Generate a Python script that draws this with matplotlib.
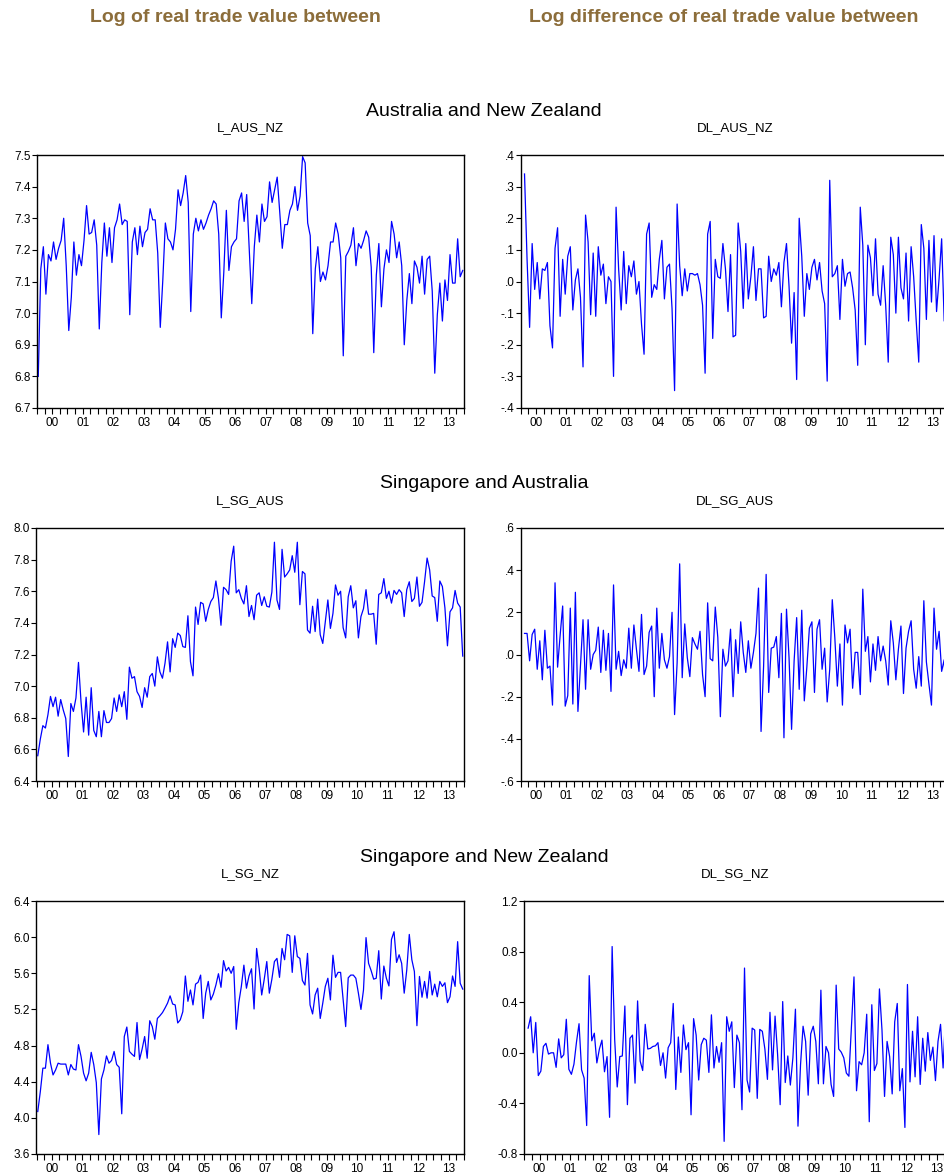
import numpy as np
import matplotlib
matplotlib.use("Agg")
import matplotlib.pyplot as plt
from matplotlib.ticker import FixedLocator, FuncFormatter

plt.rcParams['font.family'] = ['Liberation Sans', 'DejaVu Sans']
plt.rcParams['axes.unicode_minus'] = False

WIDTH, HEIGHT, DPI = 945, 1175, 100

# Monthly data, 2000M01 - 2013M12 (levels), 2000M02 - 2013M12 (differences)
years = list(range(2000, 2014))
year_labels = ['00', '01', '02', '03', '04', '05', '06', '07', '08', '09', '10', '11', '12', '13']

l_aus_nz = [
    6.80, 7.14, 7.21, 7.06, 7.185, 7.165, 7.225, 7.17, 7.205, 7.23, 7.30, 7.15,
    6.945, 7.05, 7.225, 7.12, 7.185, 7.15, 7.23, 7.34, 7.25, 7.255, 7.295, 7.215,
    6.95, 7.16, 7.285, 7.18, 7.27, 7.16, 7.27, 7.295, 7.345, 7.28, 7.295, 7.29,
    6.995, 7.225, 7.27, 7.185, 7.275, 7.21, 7.255, 7.265, 7.33, 7.295, 7.295, 7.19,
    6.955, 7.105, 7.285, 7.235, 7.225, 7.20, 7.265, 7.39, 7.34, 7.38, 7.435, 7.35,
    7.005, 7.25, 7.30, 7.26, 7.295, 7.265, 7.285, 7.31, 7.33, 7.355, 7.345, 7.25,
    6.985, 7.13, 7.325, 7.135, 7.21, 7.225, 7.235, 7.355, 7.38, 7.29, 7.375, 7.20,
    7.03, 7.21, 7.31, 7.225, 7.345, 7.29, 7.305, 7.415, 7.35, 7.39, 7.43, 7.32,
    7.205, 7.28, 7.28, 7.325, 7.345, 7.40, 7.325, 7.37, 7.495, 7.475, 7.285, 7.245,
    6.935, 7.14, 7.21, 7.10, 7.13, 7.105, 7.15, 7.225, 7.225, 7.285, 7.25, 7.175,
    6.865, 7.18, 7.195, 7.215, 7.27, 7.15, 7.22, 7.205, 7.23, 7.26, 7.24, 7.145,
    6.875, 7.12, 7.22, 7.02, 7.14, 7.20, 7.16, 7.29, 7.25, 7.175, 7.225, 7.15,
    6.90, 7.04, 7.125, 7.03, 7.165, 7.145, 7.095, 7.18, 7.06, 7.17, 7.18, 7.07,
    6.81, 6.995, 7.095, 6.975, 7.105, 7.04, 7.185, 7.095, 7.095, 7.235, 7.115, 7.135,
]

dl_aus_nz = [
    0.34, 0.07, -0.145, 0.12, -0.025, 0.06, -0.055, 0.04, 0.035, 0.06, -0.14, -0.21,
    0.105, 0.17, -0.11, 0.07, -0.04, 0.08, 0.11, -0.09, 0.005, 0.04, -0.05, -0.27,
    0.21, 0.125, -0.105, 0.09, -0.11, 0.11, 0.02, 0.055, -0.07, 0.015, 0.0, -0.30,
    0.235, 0.04, -0.09, 0.095, -0.07, 0.05, 0.015, 0.065, -0.04, 0.0, -0.135, -0.23,
    0.15, 0.185, -0.05, -0.01, -0.025, 0.07, 0.13, -0.055, 0.045, 0.055, -0.085, -0.345,
    0.245, 0.05, -0.045, 0.04, -0.03, 0.025, 0.025, 0.02, 0.025, -0.01, -0.075, -0.29,
    0.15, 0.19, -0.18, 0.07, 0.015, 0.01, 0.12, 0.04, -0.095, 0.085, -0.175, -0.17,
    0.185, 0.095, -0.085, 0.12, -0.055, 0.015, 0.11, -0.06, 0.04, 0.04, -0.115, -0.11,
    0.08, 0.0, 0.04, 0.02, 0.06, -0.08, 0.06, 0.12, -0.015, -0.195, -0.035, -0.31,
    0.20, 0.08, -0.11, 0.025, -0.025, 0.045, 0.07, 0.005, 0.06, -0.03, -0.07, -0.315,
    0.32, 0.015, 0.025, 0.05, -0.12, 0.07, -0.015, 0.025, 0.03, -0.02, -0.09, -0.265,
    0.235, 0.115, -0.20, 0.115, 0.075, -0.045, 0.135, -0.04, -0.075, 0.05, -0.075, -0.255,
    0.14, 0.085, -0.10, 0.14, -0.02, -0.055, 0.09, -0.125, 0.11, 0.015, -0.125, -0.255,
    0.18, 0.105, -0.12, 0.13, -0.065, 0.145, -0.095, 0.01, 0.135, -0.125, 0.02,
]

l_sg_aus = [
    6.56, 6.665, 6.75, 6.735, 6.82, 6.935, 6.87, 6.93, 6.81, 6.915, 6.85, 6.795,
    6.555, 6.89, 6.84, 6.925, 7.15, 6.90, 6.71, 6.93, 6.69, 6.99, 6.72, 6.68,
    6.84, 6.68, 6.845, 6.77, 6.77, 6.795, 6.925, 6.84, 6.945, 6.87, 6.965, 6.79,
    7.12, 7.05, 7.06, 6.965, 6.935, 6.865, 6.99, 6.93, 7.06, 7.08, 7.00, 7.185,
    7.09, 7.05, 7.145, 7.28, 7.09, 7.30, 7.245, 7.335, 7.32, 7.25, 7.245, 7.445,
    7.155, 7.065, 7.50, 7.39, 7.53, 7.52, 7.41, 7.485, 7.535, 7.56, 7.665, 7.555,
    7.385, 7.625, 7.61, 7.58, 7.79, 7.885, 7.59, 7.61, 7.555, 7.52, 7.635, 7.44,
    7.51, 7.42, 7.575, 7.59, 7.51, 7.565, 7.505, 7.50, 7.595, 7.91, 7.545, 7.485,
    7.865, 7.69, 7.71, 7.735, 7.825, 7.72, 7.91, 7.515, 7.725, 7.71, 7.355, 7.335,
    7.505, 7.345, 7.55, 7.325, 7.27, 7.405, 7.545, 7.365, 7.46, 7.64, 7.575, 7.60,
    7.37, 7.305, 7.565, 7.635, 7.495, 7.54, 7.305, 7.44, 7.49, 7.61, 7.455, 7.455,
    7.46, 7.265, 7.58, 7.59, 7.68, 7.555, 7.60, 7.525, 7.605, 7.58, 7.61, 7.59,
    7.44, 7.61, 7.66, 7.535, 7.555, 7.69, 7.505, 7.53, 7.66, 7.81, 7.735, 7.57,
    7.56, 7.41, 7.665, 7.63, 7.495, 7.255, 7.47, 7.495, 7.605, 7.525, 7.50, 7.19,
]

dl_sg_aus = [
    0.10, 0.10, -0.03, 0.095, 0.12, -0.07, 0.065, -0.12, 0.115, -0.065, -0.055, -0.24,
    0.34, -0.06, 0.09, 0.23, -0.245, -0.195, 0.22, -0.235, 0.295, -0.27, -0.055, 0.165,
    -0.165, 0.165, -0.07, 0.0, 0.02, 0.13, -0.085, 0.115, -0.075, 0.10, -0.175, 0.33,
    -0.07, 0.015, -0.10, -0.025, -0.065, 0.125, -0.065, 0.14, 0.025, -0.08, 0.19, -0.095,
    -0.055, 0.105, 0.135, -0.20, 0.22, -0.065, 0.10, -0.025, -0.065, -0.01, 0.20, -0.285,
    -0.04, 0.43, -0.11, 0.145, -0.015, -0.105, 0.08, 0.05, 0.025, 0.11, -0.095, -0.20,
    0.245, -0.02, -0.03, 0.225, 0.08, -0.295, 0.025, -0.055, -0.03, 0.12, -0.20, 0.07,
    -0.09, 0.155, 0.01, -0.085, 0.065, -0.065, 0.01, 0.10, 0.315, -0.365, -0.055, 0.38,
    -0.18, 0.03, 0.035, 0.085, -0.11, 0.195, -0.395, 0.215, -0.015, -0.355, -0.03, 0.175,
    -0.165, 0.21, -0.22, -0.06, 0.125, 0.155, -0.18, 0.12, 0.165, -0.07, 0.03, -0.225,
    -0.07, 0.26, 0.08, -0.15, 0.05, -0.24, 0.14, 0.055, 0.12, -0.16, 0.01, 0.01,
    -0.19, 0.31, 0.015, 0.085, -0.13, 0.05, -0.075, 0.085, -0.03, 0.04, -0.03, -0.145,
    0.16, 0.055, -0.12, 0.025, 0.135, -0.185, 0.03, 0.11, 0.16, -0.07, -0.16, -0.01,
    -0.15, 0.255, -0.035, -0.14, -0.24, 0.22, 0.025, 0.11, -0.08, -0.025, -0.31,
]

l_sg_nz = [
    4.07, 4.29, 4.55, 4.55, 4.81, 4.605, 4.475, 4.53, 4.605, 4.595, 4.595, 4.595,
    4.475, 4.59, 4.54, 4.53, 4.81, 4.68, 4.495, 4.41, 4.495, 4.725, 4.59, 4.39,
    3.815, 4.43, 4.53, 4.685, 4.605, 4.635, 4.735, 4.59, 4.56, 4.045, 4.90, 5.005,
    4.735, 4.705, 4.68, 5.055, 4.645, 4.76, 4.90, 4.66, 5.075, 5.01, 4.87, 5.10,
    5.13, 5.165, 5.215, 5.27, 5.35, 5.26, 5.25, 5.05, 5.085, 5.175, 5.57, 5.29,
    5.415, 5.25, 5.48, 5.50, 5.58, 5.10, 5.38, 5.51, 5.305, 5.37, 5.47, 5.595,
    5.445, 5.74, 5.625, 5.665, 5.60, 5.675, 4.98, 5.275, 5.455, 5.69, 5.435, 5.57,
    5.65, 5.205, 5.875, 5.655, 5.36, 5.535, 5.73, 5.38, 5.535, 5.73, 5.765, 5.555,
    5.875, 5.75, 6.03, 6.015, 5.61, 6.015, 5.785, 5.765, 5.52, 5.47, 5.82, 5.25,
    5.15, 5.36, 5.435, 5.10, 5.27, 5.455, 5.545, 5.305, 5.80, 5.555, 5.61, 5.61,
    5.305, 5.01, 5.55, 5.58, 5.58, 5.545, 5.38, 5.20, 5.415, 5.995, 5.71, 5.63,
    5.535, 5.545, 5.85, 5.315, 5.68, 5.545, 5.46, 5.975, 6.06, 5.72, 5.805, 5.71,
    5.38, 5.635, 6.03, 5.75, 5.62, 5.02, 5.565, 5.335, 5.51, 5.325, 5.62, 5.36,
    5.48, 5.34, 5.51, 5.455, 5.495, 5.275, 5.34, 5.57, 5.455, 5.95, 5.49, 5.425,
]

dl_sg_nz = [
    0.195, 0.285, 0.0, 0.24, -0.18, -0.145, 0.05, 0.075, -0.01, 0.0, 0.0, -0.115,
    0.11, -0.04, -0.015, 0.265, -0.13, -0.17, -0.09, 0.085, 0.23, -0.135, -0.20, -0.575,
    0.61, 0.095, 0.155, -0.08, 0.03, 0.10, -0.15, -0.03, -0.51, 0.84, 0.105, -0.27,
    -0.03, -0.025, 0.37, -0.41, 0.115, 0.14, -0.24, 0.41, -0.065, -0.14, 0.225, 0.03,
    0.035, 0.05, 0.055, 0.08, -0.10, 0.0, -0.20, 0.04, 0.08, 0.39, -0.29, 0.125,
    -0.155, 0.22, 0.025, 0.08, -0.49, 0.27, 0.14, -0.215, 0.065, 0.115, 0.10, -0.155,
    0.30, -0.12, 0.05, -0.075, 0.08, -0.70, 0.285, 0.17, 0.245, -0.275, 0.14, 0.08,
    -0.45, 0.67, -0.215, -0.31, 0.195, 0.18, -0.36, 0.185, 0.17, 0.03, -0.21, 0.32,
    -0.135, 0.29, -0.015, -0.41, 0.405, -0.235, -0.025, -0.255, -0.04, 0.345, -0.58, -0.095,
    0.21, 0.09, -0.335, 0.15, 0.21, 0.09, -0.245, 0.495, -0.245, 0.05, 0.0, -0.25,
    -0.345, 0.535, 0.03, 0.005, -0.04, -0.16, -0.185, 0.21, 0.60, -0.30, -0.07, -0.095,
    0.0, 0.305, -0.545, 0.38, -0.14, -0.085, 0.505, 0.18, -0.345, 0.09, -0.03, -0.325,
    0.245, 0.39, -0.30, -0.125, -0.59, 0.54, -0.23, 0.17, -0.19, 0.285, -0.25, 0.115,
    -0.145, 0.16, -0.06, 0.045, -0.22, 0.09, 0.225, -0.12, 0.31, -0.46, -0.065,
]

headings = ['Log of real trade value between', 'Log difference of real trade value between']
pair_titles = ['Australia and New Zealand', 'Singapore and Australia', 'Singapore and New Zealand']

# month positions (mid-month) in years
t_level = 2000 + (np.arange(len(l_aus_nz)) + 0.5) / 12
t_diff = t_level[1:]


def px(x, y):
    """pixel coords (from top-left) -> figure fraction"""
    return x / WIDTH, 1 - y / HEIGHT


def one_dec(v, pos):
    return f"{round(v, 1) + 0.0:.1f}"


def no_lead_zero(v, pos):
    return one_dec(v, pos).replace('0.', '.', 1)


fig = plt.figure(figsize=(WIDTH / DPI, HEIGHT / DPI), dpi=DPI, facecolor='white')

# (name, values, t, left px, top px, right px, bottom px, yticks, formatter)
panels = [
    ('L_AUS_NZ', l_aus_nz, t_level, 37, 155, 464, 408, np.arange(6.7, 7.51, 0.1), one_dec),
    ('DL_AUS_NZ', dl_aus_nz, t_diff, 520.7, 155, 948, 408, np.arange(-0.4, 0.41, 0.1), no_lead_zero),
    ('L_SG_AUS', l_sg_aus, t_level, 36.5, 528, 464, 781, np.arange(6.4, 8.01, 0.2), one_dec),
    ('DL_SG_AUS', dl_sg_aus, t_diff, 520.7, 528, 948, 781, np.arange(-0.6, 0.61, 0.2), no_lead_zero),
    ('L_SG_NZ', l_sg_nz, t_level, 36.5, 901, 464, 1154, np.arange(3.6, 6.41, 0.4), one_dec),
    ('DL_SG_NZ', dl_sg_nz, t_diff, 524.3, 901, 952, 1154, np.arange(-0.8, 1.21, 0.4), one_dec),
]

quarters = 2000 + np.arange(0, 57) / 4
mid_years = [y + 0.5 for y in years]

for name, vals, t, x0, y0, x1, y1, yt, fmt in panels:
    l, b = px(x0, y1)
    ax = fig.add_axes([l, b, (x1 - x0) / WIDTH, (y1 - y0) / HEIGHT])
    ax.plot(t, vals, color='#0000FF', lw=0.9)
    ax.set_xlim(2000, 2014)
    ax.set_ylim(yt[0], yt[-1])
    ax.set_yticks(yt)
    ax.yaxis.set_major_formatter(FuncFormatter(fmt))
    # quarter ticks, year labels centred in each year
    ax.xaxis.remove_overlapping_locs = False
    ax.xaxis.set_major_locator(FixedLocator(quarters))
    ax.xaxis.set_minor_locator(FixedLocator(mid_years))
    ax.set_xticklabels(year_labels, minor=True)
    ax.tick_params(axis='x', which='major', direction='out', length=4, width=0.8,
                   labelbottom=False)
    ax.tick_params(axis='x', which='minor', length=0, pad=6.5, labelsize=8.5)
    ax.tick_params(axis='y', direction='out', length=3.6, width=0.8, pad=1,
                   labelsize=8.5)
    for s in ax.spines.values():
        s.set_linewidth(1.0)
        s.set_color('black')
    cx = (x0 + x1) / 2 if name.startswith('L_') else 734.7
    fig.text(*px(cx, y0 - 27), name, ha='center', va='center', fontsize=9.5)

for i, title in enumerate(pair_titles):
    fig.text(*px(484, 111 + 373 * i), title, ha='center', va='center', fontsize=14)

fig.text(*px(235.5, 17), headings[0], ha='center', va='center', fontsize=14,
         fontweight='bold', color='#8C6D3A')
fig.text(*px(724, 17), headings[1], ha='center', va='center', fontsize=14,
         fontweight='bold', color='#8C6D3A')

plt.savefig('out.png', dpi=DPI, facecolor='white')
